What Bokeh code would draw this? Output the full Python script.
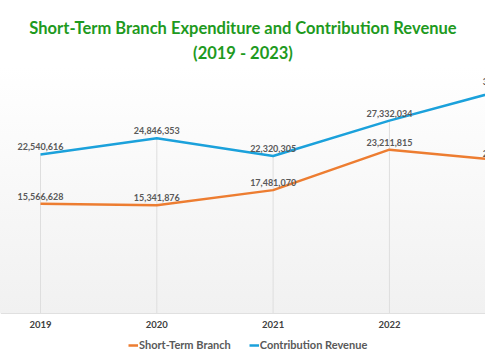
from bokeh.plotting import figure
from bokeh.models import Range1d, Title, Legend, LegendItem, ColumnDataSource, Span
from bokeh.core.properties import value
from bokeh.embed import file_html
from bokeh.resources import INLINE

years = [2019, 2020, 2021, 2022, 2023]
year_labels = ["2019", "2020", "2021", "2022", "2023"]
short_term_branch = [15566628, 15341876, 17481070, 23211815, 21670000]
contribution_revenue = [22540616, 24846353, 22320305, 27332034, 31770000]

ORANGE = "#ED7D31"
BLUE = "#1BA1DB"
GREEN = "#1E9A1E"
FONT = "Lato"

def fmt(v):
    return f"{v:,}"

src_o = ColumnDataSource(dict(x=years, y=short_term_branch, t=[fmt(v) for v in short_term_branch]))
src_b = ColumnDataSource(dict(x=years, y=contribution_revenue, t=[fmt(v) for v in contribution_revenue]))
src_drop = ColumnDataSource(dict(x=years, y0=[0] * len(years),
                                 y1=[max(a, b) for a, b in zip(short_term_branch, contribution_revenue)]))
src_ax = ColumnDataSource(dict(x=years, y=[0] * len(years), t=year_labels))

p = figure(width=485, height=360, output_backend="svg", toolbar_location=None,
           x_range=Range1d(2018.656, 2022.826), y_range=Range1d(-6.66e6, 35e6),
           x_axis_location=None, y_axis_location=None,
           min_border_left=0, min_border_right=0, min_border_top=66, min_border_bottom=0,
           title=None)
p.styles = {"background": "linear-gradient(to bottom, #ffffff 66px, #f1f1f1 313px, #ffffff 313px)"}
p.background_fill_alpha = 0
p.border_fill_alpha = 0
p.outline_line_color = None
p.xgrid.visible = False
p.ygrid.visible = False

t2 = Title(text="(2019 - 2023)", align="center", text_color=GREEN, text_font=FONT,
           text_font_size="16.5px", text_font_style="bold", standoff=7)
t1 = Title(text="Short-Term Branch Expenditure and Contribution Revenue", align="center",
           text_color=GREEN, text_font=FONT, text_font_size="16.5px", text_font_style="bold",
           standoff=0)
p.add_layout(t2, "above")
p.add_layout(t1, "above")

# drop lines and baseline
p.segment(x0="x", y0="y0", x1="x", y1="y1", source=src_drop, line_color="#dedede", line_width=1)
p.add_layout(Span(location=0, dimension="width", line_color="#e0e0e0", line_width=1))

# category labels
p.text("x", "y", text="t", source=src_ax, text_align="center", text_baseline="top",
       y_offset=8, text_font=value(FONT), text_font_style="bold",
       text_font_size="9.5px", text_color="#404040")

r_o = p.line("x", "y", source=src_o, line_color=ORANGE, line_width=2.5)
r_b = p.line("x", "y", source=src_b, line_color=BLUE, line_width=2.5)

for src in (src_o, src_b):
    p.text("x", "y", text="t", source=src, text_align="center", text_baseline="bottom",
           y_offset=-4, text_font=value(FONT), text_font_style="bold",
           text_font_size="9px", text_color="#595959")

legend = Legend(items=[LegendItem(label="Short-Term Branch", renderers=[r_o]),
                       LegendItem(label="Contribution Revenue", renderers=[r_b])],
                orientation="horizontal", location=(128, 9),
                label_text_font=FONT, label_text_font_size="11px",
                label_text_color="#595959", label_text_font_style="bold",
                glyph_width=10, glyph_height=8, label_standoff=1, spacing=18,
                padding=0, margin=0, border_line_color=None, background_fill_alpha=0)
p.add_layout(legend)

open("out.html", "w").write(file_html(p, INLINE))
